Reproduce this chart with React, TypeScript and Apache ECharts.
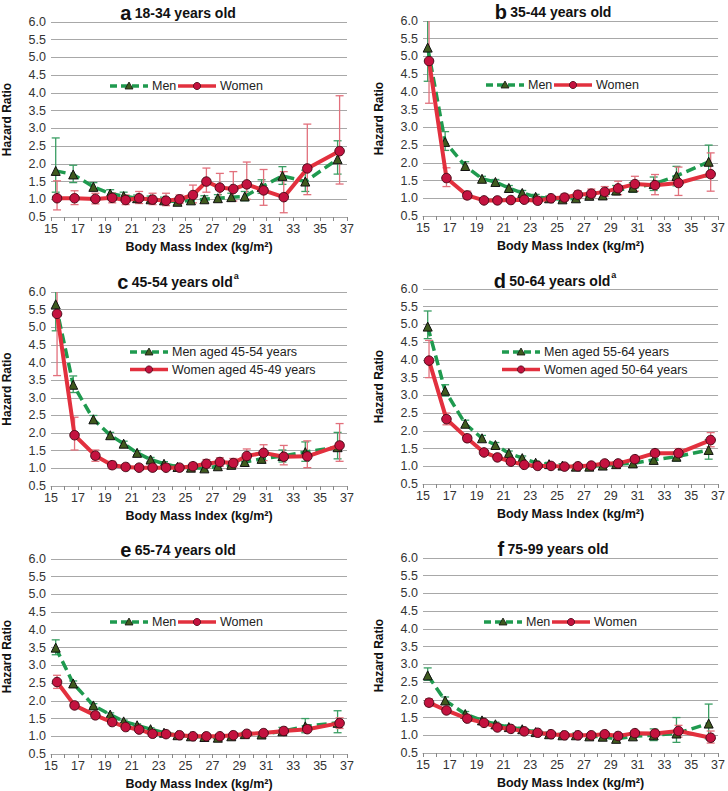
import React, { useEffect, useRef } from "react";
import * as echarts from "echarts";

// BMI category midpoints (x positions)
const bmiMen = [15.35, 16.65, 18.15, 19.4, 20.4, 21.4, 22.4, 23.4, 24.4, 25.4, 26.4, 27.4, 28.4, 29.4, 30.65, 32.2, 33.9, 36.3];
const bmiWomen = [15.45, 16.75, 18.3, 19.55, 20.55, 21.55, 22.55, 23.55, 24.55, 25.55, 26.55, 27.55, 28.55, 29.55, 30.8, 32.3, 34.05, 36.45];

const xTicks = { min: 15, max: 37, step: 2 };
const yTicks = { min: 0.5, max: 6.0, step: 0.5 };

// Panel a 18-34
const aMenHR = [1.80, 1.70, 1.35, 1.16, 1.09, 1.03, 1.00, 0.97, 0.93, 0.97, 1.00, 1.03, 1.06, 1.08, 1.35, 1.66, 1.50, 2.13];
const aMenLo = [1.20, 1.47, 1.25, 1.05, 0.98, 0.94, 0.92, 0.88, 0.85, 0.88, 0.91, 0.94, 0.96, 0.96, 1.17, 1.42, 1.22, 1.71];
const aMenHi = [2.73, 1.96, 1.47, 1.27, 1.20, 1.12, 1.09, 1.06, 1.02, 1.06, 1.10, 1.13, 1.17, 1.22, 1.55, 1.92, 1.82, 2.65];
const aWomenHR = [1.03, 1.03, 1.01, 1.04, 0.98, 1.03, 0.99, 0.96, 1.00, 1.12, 1.50, 1.33, 1.29, 1.42, 1.25, 1.06, 1.87, 2.36];
const aWomenLo = [0.70, 0.85, 0.87, 0.90, 0.85, 0.88, 0.85, 0.82, 0.88, 0.90, 1.20, 1.05, 0.95, 1.00, 0.83, 0.62, 1.13, 1.43];
const aWomenHi = [1.52, 1.24, 1.17, 1.18, 1.12, 1.22, 1.17, 1.17, 1.12, 1.40, 1.88, 1.73, 1.78, 2.05, 1.84, 1.78, 3.12, 3.92];

// Panel b 35-44
const bMenHR = [5.25, 2.59, 1.91, 1.55, 1.46, 1.29, 1.15, 1.04, 1.00, 0.97, 1.00, 1.07, 1.08, 1.22, 1.30, 1.40, 1.63, 2.03];
const bMenLo = [4.30, 2.35, 1.80, 1.48, 1.39, 1.22, 1.08, 0.97, 0.94, 0.91, 0.93, 0.99, 1.00, 1.10, 1.17, 1.22, 1.35, 1.60];
const bMenHi = [6.50, 2.88, 2.03, 1.62, 1.53, 1.36, 1.22, 1.11, 1.06, 1.03, 1.07, 1.15, 1.17, 1.36, 1.44, 1.60, 1.90, 2.50];
const bWomenHR = [4.87, 1.57, 1.08, 0.94, 0.94, 0.95, 0.96, 0.93, 1.00, 1.02, 1.10, 1.13, 1.18, 1.28, 1.40, 1.37, 1.43, 1.68];
const bWomenLo = [3.68, 1.33, 0.98, 0.88, 0.88, 0.89, 0.90, 0.87, 0.94, 0.93, 1.00, 1.02, 1.05, 1.10, 1.20, 1.10, 1.08, 1.20];
const bWomenHi = [6.40, 1.86, 1.20, 1.01, 1.00, 1.01, 1.02, 1.00, 1.07, 1.12, 1.21, 1.26, 1.33, 1.48, 1.62, 1.67, 1.88, 2.28];

// Panel c 45-54
const cMenHR = [5.65, 3.37, 2.39, 1.94, 1.70, 1.44, 1.25, 1.13, 1.04, 1.02, 1.00, 1.06, 1.10, 1.18, 1.27, 1.35, 1.46, 1.60];
const cMenLo = [4.90, 3.15, 2.28, 1.86, 1.63, 1.38, 1.19, 1.07, 0.98, 0.96, 0.94, 0.99, 1.02, 1.09, 1.15, 1.18, 1.20, 1.27];
const cMenHi = [6.50, 3.62, 2.50, 2.02, 1.77, 1.50, 1.31, 1.19, 1.10, 1.08, 1.07, 1.13, 1.18, 1.27, 1.40, 1.52, 1.75, 2.02];
const cWomenHR = [5.38, 1.94, 1.36, 1.09, 1.04, 1.02, 1.02, 1.02, 1.02, 1.06, 1.13, 1.18, 1.15, 1.35, 1.44, 1.33, 1.34, 1.65];
const cWomenLo = [3.63, 1.52, 1.20, 0.99, 0.96, 0.95, 0.95, 0.96, 0.96, 0.97, 1.02, 1.06, 1.03, 1.18, 1.22, 1.10, 1.02, 1.20];
const cWomenHi = [6.40, 2.45, 1.52, 1.20, 1.12, 1.10, 1.09, 1.08, 1.09, 1.16, 1.25, 1.30, 1.28, 1.55, 1.67, 1.65, 1.78, 2.27];

// Panel d 50-64
const dMenHR = [4.94, 3.13, 2.20, 1.79, 1.60, 1.37, 1.23, 1.10, 1.06, 1.02, 0.99, 0.99, 1.02, 1.06, 1.08, 1.18, 1.27, 1.46];
const dMenLo = [4.60, 2.98, 2.10, 1.72, 1.54, 1.31, 1.18, 1.05, 1.01, 0.97, 0.94, 0.94, 0.97, 1.00, 1.02, 1.10, 1.15, 1.20];
const dMenHi = [5.38, 3.30, 2.30, 1.87, 1.67, 1.43, 1.29, 1.15, 1.11, 1.07, 1.04, 1.04, 1.08, 1.12, 1.15, 1.28, 1.40, 1.75];
const dWomenHR = [3.98, 2.33, 1.79, 1.39, 1.25, 1.13, 1.04, 1.01, 1.01, 0.99, 1.00, 1.02, 1.08, 1.08, 1.20, 1.37, 1.37, 1.74];
const dWomenLo = [3.50, 2.17, 1.70, 1.33, 1.19, 1.07, 0.99, 0.96, 0.96, 0.95, 0.96, 0.97, 1.02, 1.02, 1.12, 1.28, 1.25, 1.55];
const dWomenHi = [4.55, 2.50, 1.88, 1.45, 1.31, 1.19, 1.09, 1.06, 1.06, 1.04, 1.05, 1.07, 1.14, 1.15, 1.28, 1.46, 1.50, 1.95];

// Panel e 65-74
const eMenHR = [3.50, 2.49, 1.87, 1.61, 1.42, 1.31, 1.20, 1.10, 1.03, 1.00, 0.98, 0.96, 1.00, 1.06, 1.05, 1.14, 1.28, 1.38];
const eMenLo = [3.30, 2.42, 1.82, 1.56, 1.38, 1.27, 1.16, 1.06, 0.99, 0.96, 0.94, 0.92, 0.96, 1.01, 0.99, 1.05, 1.10, 1.10];
const eMenHi = [3.72, 2.56, 1.92, 1.66, 1.46, 1.35, 1.24, 1.14, 1.07, 1.04, 1.02, 1.00, 1.04, 1.11, 1.11, 1.25, 1.50, 1.72];
const eWomenHR = [2.53, 1.87, 1.59, 1.40, 1.26, 1.19, 1.07, 1.06, 1.03, 1.00, 1.00, 1.00, 1.03, 1.07, 1.09, 1.15, 1.20, 1.37];
const eWomenLo = [2.35, 1.80, 1.54, 1.36, 1.22, 1.15, 1.03, 1.02, 0.99, 0.96, 0.96, 0.96, 0.99, 1.03, 1.04, 1.08, 1.12, 1.22];
const eWomenHi = [2.72, 1.94, 1.64, 1.44, 1.30, 1.23, 1.11, 1.10, 1.07, 1.04, 1.04, 1.04, 1.07, 1.12, 1.14, 1.22, 1.28, 1.52];

// Panel f 75-99
const fMenHR = [2.69, 1.98, 1.60, 1.42, 1.31, 1.23, 1.17, 1.09, 1.03, 1.00, 1.00, 0.97, 0.96, 0.90, 0.97, 1.00, 1.05, 1.33];
const fMenLo = [2.55, 1.88, 1.53, 1.36, 1.25, 1.17, 1.11, 1.03, 0.97, 0.94, 0.94, 0.91, 0.89, 0.83, 0.88, 0.85, 0.80, 0.90];
const fMenHi = [2.90, 2.08, 1.67, 1.48, 1.37, 1.29, 1.23, 1.15, 1.09, 1.06, 1.06, 1.03, 1.03, 0.98, 1.07, 1.18, 1.50, 1.88];
const fWomenHR = [1.92, 1.70, 1.47, 1.35, 1.22, 1.18, 1.11, 1.07, 1.03, 1.00, 1.00, 1.00, 1.03, 0.98, 1.06, 1.05, 1.12, 0.93];
const fWomenLo = [1.82, 1.64, 1.42, 1.30, 1.17, 1.13, 1.06, 1.02, 0.98, 0.95, 0.95, 0.95, 0.97, 0.92, 0.99, 0.96, 0.95, 0.78];
const fWomenHi = [2.03, 1.76, 1.52, 1.40, 1.27, 1.23, 1.16, 1.12, 1.08, 1.05, 1.05, 1.05, 1.09, 1.04, 1.13, 1.15, 1.28, 1.12];

const panelLetters = ["a", "b", "c", "d", "e", "f"];
const panelTitles = ["18-34 years old", "35-44 years old", "45-54 years old", "50-64 years old", "65-74 years old", "75-99 years old"];
const panelSup = ["", "", "a", "a", "", ""];
const menNames = ["Men", "Men", "Men aged 45-54 years", "Men aged 55-64 years", "Men", "Men"];
const womenNames = ["Women", "Women", "Women aged 45-49 years", "Women aged 50-64 years", "Women", "Women"];
const xAxisTitle = "Body Mass Index (kg/m\u00B2)";
const yAxisTitle = "Hazard Ratio";

const panels = [
  { men: [aMenHR, aMenLo, aMenHi], women: [aWomenHR, aWomenLo, aWomenHi] },
  { men: [bMenHR, bMenLo, bMenHi], women: [bWomenHR, bWomenLo, bWomenHi] },
  { men: [cMenHR, cMenLo, cMenHi], women: [cWomenHR, cWomenLo, cWomenHi] },
  { men: [dMenHR, dMenLo, dMenHi], women: [dWomenHR, dWomenLo, dWomenHi] },
  { men: [eMenHR, eMenLo, eMenHi], women: [eWomenHR, eWomenLo, eWomenHi] },
  { men: [fMenHR, fMenLo, fMenHi], women: [fWomenHR, fWomenLo, fWomenHi] },
];

// layout
const gridBoxes = [
  { left: 48, top: 22, width: 299, height: 195 },
  { left: 423, top: 21, width: 298, height: 195 },
  { left: 48, top: 292, width: 299, height: 194 },
  { left: 423, top: 289, width: 298, height: 195 },
  { left: 48, top: 559, width: 299, height: 195 },
  { left: 423, top: 558, width: 298, height: 195 },
];
const titlePos = [
  [178, 13], [553, 12], [178, 282], [555, 281], [178, 550], [553, 549],
];
// legend anchor: [x of first icon, y of first row, vertical?]
const legendPos: [number, number, boolean][] = [
  [110, 86, false],
  [486, 85, false],
  [130, 352, true],
  [502, 352, true],
  [110, 622, false],
  [484, 622, false],
];
const yNameGap = 38;

const FONT = "'Liberation Sans', Arial, Helvetica, sans-serif";
const MEN_LINE = "#1f9a4f";
const MEN_ERR = "#3a9e63";
const MEN_MARK = "#3f5a1e";
const WOMEN_LINE = "#e2303e";
const WOMEN_ERR = "#e2707c";
const WOMEN_MARK = "#c4123f";
const GRID = "#a8a8a8";

function errSeries(idx: number, xs: number[], lo: number[], hi: number[], color: string, name: string) {
  return {
    type: "custom",
    name,
    xAxisIndex: idx,
    yAxisIndex: idx,
    z: 2,
    silent: true,
    data: xs.map((x, i) => [x, lo[i], hi[i]]),
    encode: { x: 0, y: [1, 2] },
    renderItem: (params: any, api: any) => {
      const x = api.value(0);
      const pLo = api.coord([x, api.value(1)]);
      const pHi = api.coord([x, api.value(2)]);
      const top = params.coordSys.y;
      const clipped = pHi[1] < top;
      const yHi = Math.max(pHi[1], top);
      const st = { stroke: color, lineWidth: 1.3 };
      const cw = 4;
      const children: any[] = [
        { type: "line", shape: { x1: pLo[0], y1: pLo[1], x2: pLo[0], y2: yHi }, style: st },
        { type: "line", shape: { x1: pLo[0] - cw, y1: pLo[1], x2: pLo[0] + cw, y2: pLo[1] }, style: st },
      ];
      if (!clipped) {
        children.push({ type: "line", shape: { x1: pHi[0] - cw, y1: pHi[1], x2: pHi[0] + cw, y2: pHi[1] }, style: st });
      }
      return { type: "group", children };
    },
  };
}

function legendItem(x: number, y: number, male: boolean, label: string) {
  const w = 38;
  const cx = x + w / 2;
  const els: any[] = [
    {
      type: "line",
      silent: true,
      z: 10,
      shape: { x1: x, y1: y, x2: x + w, y2: y },
      style: male
        ? { stroke: MEN_LINE, lineWidth: 3.5, lineDash: [7, 4] }
        : { stroke: WOMEN_LINE, lineWidth: 3.5 },
    },
    male
      ? {
          type: "polygon",
          silent: true,
          z: 11,
          shape: { points: [[cx, y - 4], [cx - 4, y + 3], [cx + 4, y + 3]] },
          style: { fill: MEN_MARK, stroke: "#111", lineWidth: 0.8 },
        }
      : {
          type: "circle",
          silent: true,
          z: 11,
          shape: { cx, cy: y, r: 3.6 },
          style: { fill: WOMEN_MARK, stroke: "#4a0a18", lineWidth: 0.8 },
        },
    {
      type: "text",
      silent: true,
      z: 11,
      x: x + w + 4,
      y,
      style: { text: label, fontFamily: FONT, fontSize: 12.5, fill: "#222", verticalAlign: "middle", align: "left" },
    },
  ];
  return els;
}

export default function App() {
  const ref = useRef<HTMLDivElement>(null);
  useEffect(() => {
    if (!ref.current) return;
    const chart = echarts.init(ref.current, undefined, { renderer: "svg" });

    const grid = gridBoxes.map((g) => ({ ...g, containLabel: false }));
    const xAxis = gridBoxes.map((_, i) => ({
      type: "value",
      gridIndex: i,
      min: xTicks.min,
      max: xTicks.max,
      interval: xTicks.step,
      name: xAxisTitle,
      nameLocation: "middle",
      nameGap: 23,
      nameTextStyle: { fontFamily: FONT, fontSize: 12.5, fontWeight: "bold", color: "#111", verticalAlign: "top" },
      axisLine: { show: true, lineStyle: { color: GRID, width: 1 } },
      axisTick: { show: true, length: 4, lineStyle: { color: "#888" } },
      minorTick: { show: true, splitNumber: 2, length: 4, lineStyle: { color: "#888" } },
      splitLine: { show: false },
      axisLabel: { fontFamily: FONT, fontSize: 12.5, color: "#333", margin: 5 },
    }));
    const yAxis = gridBoxes.map((_, i) => ({
      type: "value",
      gridIndex: i,
      min: yTicks.min,
      max: yTicks.max,
      interval: yTicks.step,
      name: yAxisTitle,
      nameLocation: "middle",
      nameRotate: 90,
      nameGap: yNameGap,
      nameTextStyle: { fontFamily: FONT, fontSize: 12, fontWeight: "bold", color: "#111" },
      axisLine: { show: false },
      axisTick: { show: false },
      splitLine: { show: true, lineStyle: { color: GRID, width: 1 } },
      axisLabel: { fontFamily: FONT, fontSize: 12.5, color: "#333", margin: 5, formatter: (v: number) => v.toFixed(1) },
    }));

    const series: any[] = [];
    panels.forEach((p, i) => {
      series.push(errSeries(i, bmiMen, p.men[1], p.men[2], MEN_ERR, "menCI" + i));
      series.push(errSeries(i, bmiWomen, p.women[1], p.women[2], WOMEN_ERR, "womenCI" + i));
      series.push({
        type: "line",
        name: menNames[i],
        xAxisIndex: i,
        yAxisIndex: i,
        z: 3,
        data: bmiMen.map((x, k) => [x, p.men[0][k]]),
        symbol: "triangle",
        symbolSize: 9,
        lineStyle: { color: MEN_LINE, width: 3.5, type: [10, 5] },
        itemStyle: { color: MEN_MARK, borderColor: "#111", borderWidth: 1 },
      });
      series.push({
        type: "line",
        name: womenNames[i],
        xAxisIndex: i,
        yAxisIndex: i,
        z: 4,
        data: bmiWomen.map((x, k) => [x, p.women[0][k]]),
        symbol: "circle",
        symbolSize: 9.5,
        lineStyle: { color: WOMEN_LINE, width: 4 },
        itemStyle: { color: WOMEN_MARK, borderColor: "#4a0a18", borderWidth: 1 },
      });
    });

    const graphic: any[] = titlePos.map((tp, i) => ({
      type: "text",
      x: tp[0],
      y: tp[1],
      silent: true,
      style: {
        text: `{l|${panelLetters[i]}} {t|${panelTitles[i]}}` + (panelSup[i] ? `{s|${panelSup[i]}}` : ""),
        align: "center",
        verticalAlign: "middle",
        rich: {
          l: { fontFamily: FONT, fontSize: 20, fontWeight: "bold", fill: "#111", lineHeight: 22 },
          t: { fontFamily: FONT, fontSize: 14, fontWeight: "bold", fill: "#111", lineHeight: 22 },
          s: { fontFamily: FONT, fontSize: 9, fontWeight: "bold", fill: "#111", lineHeight: 22, verticalAlign: "top", padding: [0, 0, 8, 1] },
        },
      },
    }));

    legendPos.forEach(([lx, ly, vertical], i) => {
      graphic.push(...legendItem(lx, ly, true, menNames[i]));
      if (vertical) graphic.push(...legendItem(lx, ly + 17.5, false, womenNames[i]));
      else graphic.push(...legendItem(lx + 68, ly, false, womenNames[i]));
    });

    chart.setOption({
      animation: false,
      backgroundColor: "#ffffff",
      grid,
      xAxis,
      yAxis,
      series,
      graphic,
    });
    return () => chart.dispose();
  }, []);
  return (
    <div
      ref={ref}
      style={{ position: "absolute", left: 0, top: 0, width: 728, height: 791, background: "#fff" }}
    />
  );
}
